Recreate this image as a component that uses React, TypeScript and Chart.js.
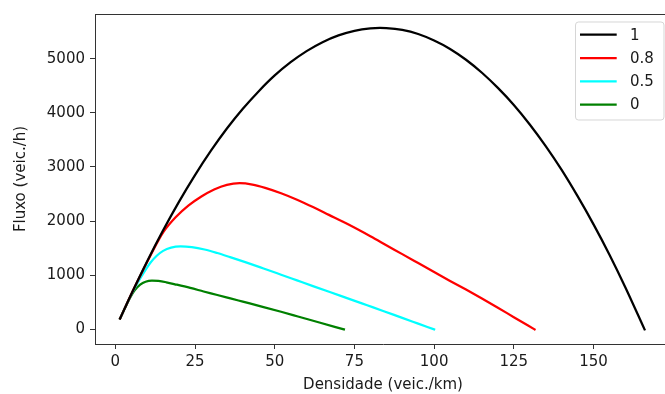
import React, { useEffect, useRef } from "react";
import { Chart, registerables } from "chart.js";

Chart.register(...registerables);

const SERIES_LABELS = ["1", "0.8", "0.5", "0"];
const SERIES_COLORS = ["#000000", "#ff0000", "#00ffff", "#008000"];

// Series "1"
const K_1 = [1.5, 5, 10, 15, 20, 25, 30, 35, 40, 45, 50, 55, 60, 65, 70, 75, 80, 83, 85, 90, 95, 100, 105, 110, 115, 120, 125, 130, 135, 140, 145, 150, 155, 160, 166];
const Q_1 = [200, 650, 1260, 1830, 2360, 2850, 3300, 3710, 4075, 4400, 4690, 4935, 5140, 5305, 5430, 5515, 5560, 5568, 5565, 5530, 5455, 5335, 5180, 4980, 4740, 4460, 4145, 3785, 3385, 2945, 2460, 1940, 1380, 775, 0];

// Series "0.8"
const K_08 = [1.5, 5, 8, 11, 15, 19, 23, 27, 31, 35, 39, 43, 47, 52, 57, 62, 67, 73, 80, 85, 90, 95, 100, 105, 110, 115, 120, 125, 131.5];
const Q_08 = [200, 650, 1010, 1360, 1790, 2075, 2290, 2455, 2585, 2670, 2700, 2675, 2615, 2515, 2395, 2260, 2115, 1940, 1720, 1555, 1390, 1225, 1060, 895, 735, 570, 400, 225, 0];

// Series "0.5"
const K_05 = [1.5, 4, 6, 8, 11, 13, 15, 17.5, 20.5, 24, 28, 32, 36, 41, 46.5, 52, 57, 62, 67.5, 74, 79, 84, 90, 95, 100];
const Q_05 = [200, 520, 755, 960, 1230, 1360, 1450, 1510, 1532, 1518, 1475, 1410, 1335, 1238, 1125, 1010, 905, 800, 685, 550, 445, 340, 212, 106, 0];

// Series "0"
const K_0 = [1.5, 3, 4.6, 6, 7.8, 9.5, 11.5, 13.5, 16, 19.3, 23.5, 27.7, 32, 36.1, 40, 46.5, 52, 57, 64, 71.7];
const Q_0 = [200, 390, 580, 715, 825, 880, 900, 895, 870, 825, 765, 700, 635, 572, 512, 412, 325, 243, 127, 0];

const X_TICKS = [0, 25, 50, 75, 100, 125, 150];
const Y_TICKS = [0, 1000, 2000, 3000, 4000, 5000];
const X_LABEL = "Densidade (veic./km)";
const Y_LABEL = "Fluxo (veic./h)";

const SERIES_K = [K_1, K_08, K_05, K_0];
const SERIES_Q = [Q_1, Q_08, Q_05, Q_0];

const FONT = "'DejaVu Sans', sans-serif";
const TEXT_COLOR = "#1a1a1a";
const AXIS_COLOR = "#333333";

const insideLegend = {
  id: "insideLegend",
  afterDraw(chart: any) {
    const ctx = chart.ctx as CanvasRenderingContext2D;
    const area = chart.chartArea;
    const w = 88.5;
    const h = 98;
    const right = area.right - 7.5;
    const top = area.top + 7.5;
    const left = right - w;
    ctx.save();
    ctx.beginPath();
    (ctx as any).roundRect(left + 0.5, top + 0.5, w, h, 3);
    ctx.fillStyle = "rgba(255,255,255,0.8)";
    ctx.fill();
    ctx.strokeStyle = "rgba(204,204,204,0.8)";
    ctx.lineWidth = 1;
    ctx.stroke();
    ctx.font = `15px ${FONT}`;
    ctx.textBaseline = "middle";
    ctx.textAlign = "left";
    SERIES_LABELS.forEach((lab, i) => {
      const y = top + 13.2 + i * 23.3;
      ctx.beginPath();
      ctx.moveTo(left + 5, y);
      ctx.lineTo(left + 41.7, y);
      ctx.strokeStyle = SERIES_COLORS[i];
      ctx.lineWidth = 2.25;
      ctx.stroke();
      ctx.fillStyle = TEXT_COLOR;
      ctx.fillText(lab, left + 55, y + 1);
    });
    ctx.restore();
  },
};

export default function App() {
  const ref = useRef<HTMLCanvasElement>(null);
  useEffect(() => {
    if (!ref.current) return;
    const datasets = SERIES_LABELS.map((lab, i) => ({
      label: lab,
      data: SERIES_K[i].map((k, j) => ({ x: k, y: SERIES_Q[i][j] })),
      borderColor: SERIES_COLORS[i],
      backgroundColor: SERIES_COLORS[i],
      borderWidth: 2.25,
      pointRadius: 0,
      showLine: true,
      fill: false,
      cubicInterpolationMode: "monotone" as const,
      borderCapStyle: "square" as const,
    }));
    const chart = new Chart(ref.current, {
      type: "scatter",
      data: { datasets },
      options: {
        animation: false,
        responsive: false,
        layout: { padding: { left: 0, right: 9, top: 6, bottom: 0 } },
        plugins: { legend: { display: false }, tooltip: { enabled: false } },
        scales: {
          x: {
            type: "linear",
            min: -6.37,
            max: 174.3,
            afterFit: (s: any) => { s.height = 50; },
            afterBuildTicks: (s: any) => { s.ticks = X_TICKS.map((v) => ({ value: v })); },
            grid: { display: true, drawOnChartArea: false, drawTicks: true, tickLength: 5, tickWidth: 1, color: AXIS_COLOR },
            border: { display: true, color: AXIS_COLOR, width: 1 },
            ticks: { autoSkip: false, maxRotation: 0, padding: 4, color: TEXT_COLOR, font: { family: FONT, size: 15 }, callback: (v: any) => String(v) },
            title: { display: true, text: X_LABEL, color: TEXT_COLOR, font: { family: FONT, size: 15 }, padding: { top: 0, bottom: 0 } },
          },
          y: {
            type: "linear",
            min: -270,
            max: 5825,
            afterFit: (s: any) => { s.width = 95; },
            afterBuildTicks: (s: any) => { s.ticks = Y_TICKS.map((v) => ({ value: v })); },
            grid: { display: true, drawOnChartArea: false, drawTicks: true, tickLength: 5, tickWidth: 1, color: AXIS_COLOR },
            border: { display: true, color: AXIS_COLOR, width: 1 },
            ticks: { autoSkip: false, padding: 5, color: TEXT_COLOR, font: { family: FONT, size: 15 }, callback: (v: any) => String(v) },
            title: { display: true, text: Y_LABEL, color: TEXT_COLOR, font: { family: FONT, size: 15 }, padding: { top: 12, bottom: 0 } },
          },
        },
      },
      plugins: [
        insideLegend,
        {
          id: "topBorder",
          afterDraw(chart: any) {
            const { ctx, chartArea } = chart;
            ctx.save();
            ctx.strokeStyle = AXIS_COLOR;
            ctx.lineWidth = 1;
            ctx.beginPath();
            ctx.moveTo(chartArea.left, Math.round(chartArea.top) + 0.5);
            ctx.lineTo(chartArea.right, Math.round(chartArea.top) + 0.5);
            ctx.stroke();
            ctx.restore();
          },
        },
      ],
    });
    return () => chart.destroy();
  }, []);
  return (
    <div style={{ position: "absolute", left: 0, top: 0, width: 665, height: 394, overflow: "hidden", background: "#fff" }}>
      <canvas ref={ref} width={680} height={394} />
    </div>
  );
}
